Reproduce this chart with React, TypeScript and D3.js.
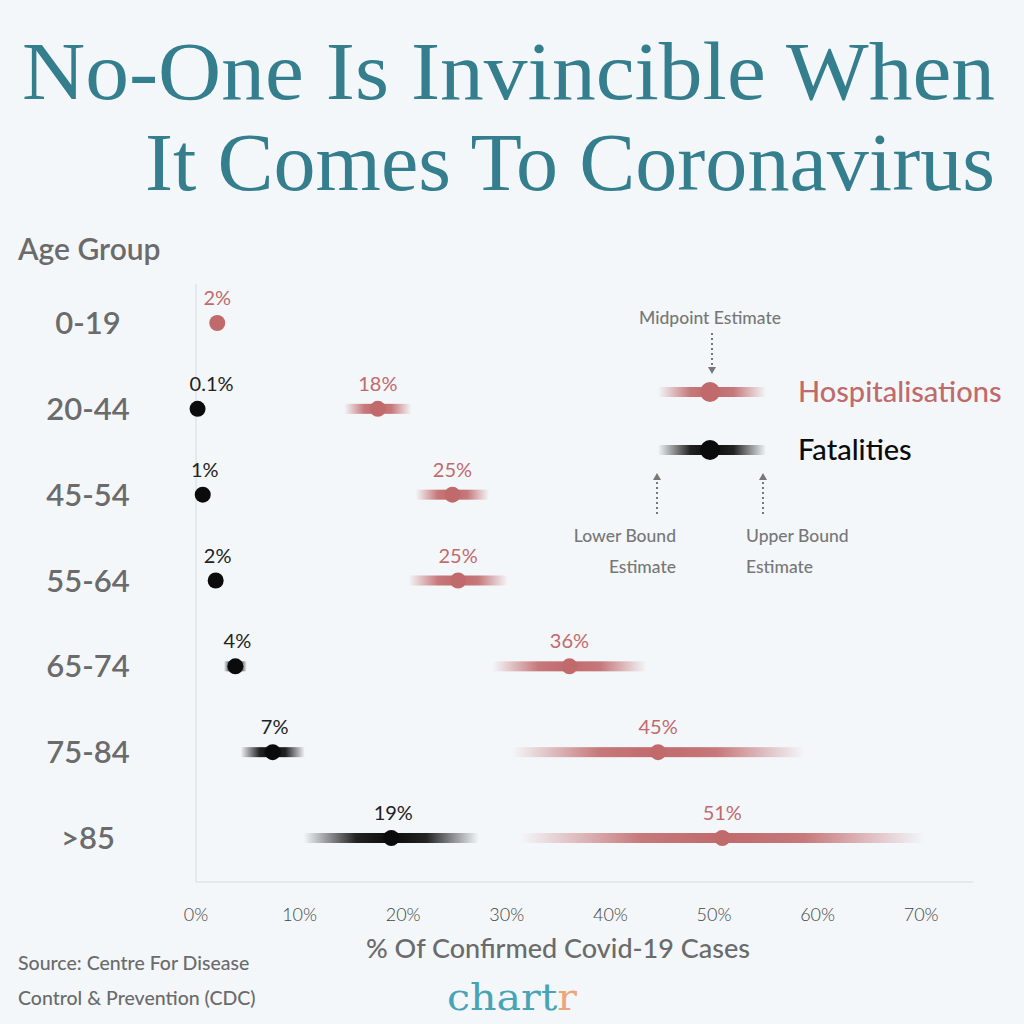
import React, { useRef, useEffect } from "react";
import * as d3 from "d3";

const ageGroups = ["0-19", "20-44", "45-54", "55-64", "65-74", "75-84", ">85"];

// hospitalisation ranges (% of confirmed cases)
const hospLow = [1.6, 14.3, 21.2, 20.5, 28.6, 30.5, 31.3];
const hospMid = [2.05, 17.55, 24.75, 25.3, 36.05, 44.6, 50.8];
const hospHigh = [2.5, 20.8, 28.3, 30.1, 43.5, 58.7, 70.3];
const hospLabels = ["2%", "18%", "25%", "25%", "36%", "45%", "51%"];

// fatality ranges, none shown for 0-19
const fatalLow = [null, 0.1, 0.5, 1.4, 2.7, 4.3, 10.4];
const fatalMid = [null, 0.15, 0.65, 1.9, 3.8, 7.4, 18.85];
const fatalHigh = [null, 0.2, 0.8, 2.6, 4.9, 10.5, 27.3];
const fatalLabels = [null, "0.1%", "1%", "2%", "4%", "7%", "19%"];

const xTicks = [0, 10, 20, 30, 40, 50, 60, 70];

const HOSP = "#c16a6c";
const FATAL = "#0b0b0b";
const GREY = "#6b6b6b";
const BODY_FONT = "Lato, 'Noto Sans', sans-serif";

const App = () => {
  const svgRef = useRef<SVGSVGElement>(null);
  const width = 1024;
  const height = 1024;

  useEffect(() => {
    const svg = d3.select(svgRef.current);
    svg.selectAll("*").remove();

    const x = d3.scaleLinear().domain([0, 75]).range([196, 973]);
    const y = d3.scalePoint().domain(ageGroups).range([323, 838]);

    svg.append("rect").attr("width", width).attr("height", height).attr("fill", "#f3f7fa");

    const defs = svg.append("defs");

    // title
    const title = svg
      .append("g")
      .attr("fill", "#347e8e")
      .attr("font-family", "'Liberation Serif', 'DejaVu Serif', serif")
      .attr("font-size", 82);
    title
      .append("text")
      .attr("x", 22)
      .attr("y", 99)
      .attr("textLength", 973)
      .attr("lengthAdjust", "spacingAndGlyphs")
      .text("No-One Is Invincible When");
    title
      .append("text")
      .attr("x", 145)
      .attr("y", 190)
      .attr("textLength", 850)
      .attr("lengthAdjust", "spacingAndGlyphs")
      .text("It Comes To Coronavirus");

    // axis lines
    svg
      .append("line")
      .attr("x1", x(0))
      .attr("x2", x(0))
      .attr("y1", 284)
      .attr("y2", 882)
      .attr("stroke", "#dfe5ea")
      .attr("stroke-width", 1.5);
    svg
      .append("line")
      .attr("x1", x(0))
      .attr("x2", x(75))
      .attr("y1", 882)
      .attr("y2", 882)
      .attr("stroke", "#dfe5ea")
      .attr("stroke-width", 1.5);

    // x tick labels
    svg
      .append("g")
      .selectAll("text")
      .data(xTicks)
      .join("text")
      .attr("x", (d) => x(d))
      .attr("y", 921)
      .attr("text-anchor", "middle")
      .attr("font-family", BODY_FONT)
      .attr("font-weight", 300)
      .attr("font-size", 18)
      .attr("fill", "#444")
      .text((d) => `${d}%`);

    svg
      .append("text")
      .attr("x", 558)
      .attr("y", 958)
      .attr("text-anchor", "middle")
      .attr("font-family", BODY_FONT)
      .attr("font-weight", 500)
      .attr("font-size", 27)
      .attr("fill", GREY)
      .text("% Of Confirmed Covid-19 Cases");

    // y labels
    svg
      .append("text")
      .attr("x", 18)
      .attr("y", 260)
      .attr("font-family", BODY_FONT)
      .attr("font-weight", 600)
      .attr("font-size", 30)
      .attr("fill", GREY)
      .text("Age Group");
    svg
      .append("g")
      .selectAll("text")
      .data(ageGroups)
      .join("text")
      .attr("x", 88)
      .attr("y", (d) => y(d) + 11)
      .attr("text-anchor", "middle")
      .attr("font-family", BODY_FONT)
      .attr("font-weight", 600)
      .attr("font-size", 31)
      .attr("fill", GREY)
      .text((d) => d);

    const addGradient = (id, x1, x2, color) => {
      const g = defs
        .append("linearGradient")
        .attr("id", id)
        .attr("gradientUnits", "userSpaceOnUse")
        .attr("x1", x1)
        .attr("x2", x2)
        .attr("y1", 0)
        .attr("y2", 0);
      [
        [0, 0],
        [0.3, 0.9],
        [0.5, 1],
        [0.7, 0.9],
        [1, 0],
      ].forEach(([o, op]) =>
        g.append("stop").attr("offset", o).attr("stop-color", color).attr("stop-opacity", op)
      );
      return `url(#${id})`;
    };

    const drawRange = (key, lo, mid, hi, cy, color, r, thick) => {
      const x1 = x(lo);
      const x2 = x(hi);
      if (x2 - x1 > 2) {
        svg
          .append("rect")
          .attr("x", x1)
          .attr("y", cy - thick / 2)
          .attr("width", x2 - x1)
          .attr("height", thick)
          .attr("fill", addGradient(key, x1, x2, color));
      }
      svg.append("circle").attr("cx", x(mid)).attr("cy", cy).attr("r", r).attr("fill", color);
    };

    ageGroups.forEach((g, i) => {
      const cy = y(g);
      drawRange(`h${i}`, hospLow[i], hospMid[i], hospHigh[i], cy, HOSP, 8, 10);
      svg
        .append("text")
        .attr("x", x(hospMid[i]))
        .attr("y", cy - 18)
        .attr("text-anchor", "middle")
        .attr("font-family", BODY_FONT)
        .attr("font-size", 20)
        .attr("fill", HOSP)
        .text(hospLabels[i]);
      if (fatalMid[i] != null) {
        drawRange(`f${i}`, fatalLow[i], fatalMid[i], fatalHigh[i], cy, FATAL, 8, 10);
        svg
          .append("text")
          .attr("x", x(fatalMid[i]) + (i === 1 ? 14 : 2))
          .attr("y", cy - 18)
          .attr("text-anchor", "middle")
          .attr("font-family", BODY_FONT)
          .attr("font-size", 20)
          .attr("fill", "#222")
          .text(fatalLabels[i]);
      }
    });

    // legend
    const legend = svg.append("g");
    const lx1 = 658;
    const lx2 = 766;
    const lmid = 710;
    [
      ["lh", 392, HOSP, "Hospitalisations"],
      ["lf", 450, FATAL, "Fatalities"],
    ].forEach(([id, ly, color, label]) => {
      legend
        .append("rect")
        .attr("x", lx1)
        .attr("y", ly - 5)
        .attr("width", lx2 - lx1)
        .attr("height", 10)
        .attr("fill", addGradient(id, lx1, lx2, color));
      legend.append("circle").attr("cx", lmid).attr("cy", ly).attr("r", 10).attr("fill", color);
      legend
        .append("text")
        .attr("x", 798)
        .attr("y", ly + 10)
        .attr("font-family", BODY_FONT)
        .attr("font-weight", 500)
        .attr("font-size", 29)
        .attr("fill", color)
        .text(label);
    });

    const annFont = (t) =>
      t
        .attr("font-family", BODY_FONT)
        .attr("font-weight", 500)
        .attr("font-size", 17.5)
        .attr("fill", "#777");

    legend
      .append("text")
      .attr("x", lmid)
      .attr("y", 324)
      .attr("text-anchor", "middle")
      .call(annFont)
      .text("Midpoint Estimate");

    const arrow = (ax, yFrom, yTo) => {
      const dir = yTo > yFrom ? 1 : -1;
      legend
        .append("line")
        .attr("x1", ax)
        .attr("x2", ax)
        .attr("y1", yFrom)
        .attr("y2", yTo - dir * 6)
        .attr("stroke", "#777")
        .attr("stroke-width", 2)
        .attr("stroke-dasharray", "2,3");
      legend
        .append("path")
        .attr("d", `M${ax - 4},${yTo - dir * 7} L${ax + 4},${yTo - dir * 7} L${ax},${yTo} Z`)
        .attr("fill", "#777");
    };
    arrow(712, 333, 374);
    arrow(657, 514, 473);
    arrow(763, 514, 473);

    [
      ["Lower Bound", 676, 542, "end"],
      ["Estimate", 676, 573, "end"],
      ["Upper Bound", 746, 542, "start"],
      ["Estimate", 746, 573, "start"],
    ].forEach(([t, tx, ty, anchor]) =>
      legend
        .append("text")
        .attr("x", tx)
        .attr("y", ty)
        .attr("text-anchor", anchor)
        .call(annFont)
        .text(t)
    );

    // source + logo
    const src = svg
      .append("g")
      .attr("font-family", BODY_FONT)
      .attr("font-weight", 500)
      .attr("font-size", 19.5)
      .attr("fill", GREY);
    src.append("text").attr("x", 18).attr("y", 970).text("Source: Centre For Disease");
    src.append("text").attr("x", 18).attr("y", 1005).text("Control & Prevention (CDC)");

    const logo = svg
      .append("text")
      .attr("x", 447)
      .attr("y", 1010)
      .attr("font-family", "'DejaVu Serif', serif")
      .attr("font-size", 38)
      .attr("textLength", 130)
      .attr("lengthAdjust", "spacingAndGlyphs");
    logo.append("tspan").attr("fill", "#48a3b6").text("chart");
    logo.append("tspan").attr("fill", "#eaa77a").text("r");
  }, []);

  return (
    <div style={{ position: "absolute", left: 0, top: 0 }}>
      <svg ref={svgRef} width={width} height={height} style={{ display: "block" }}></svg>
    </div>
  );
};

export default App;
